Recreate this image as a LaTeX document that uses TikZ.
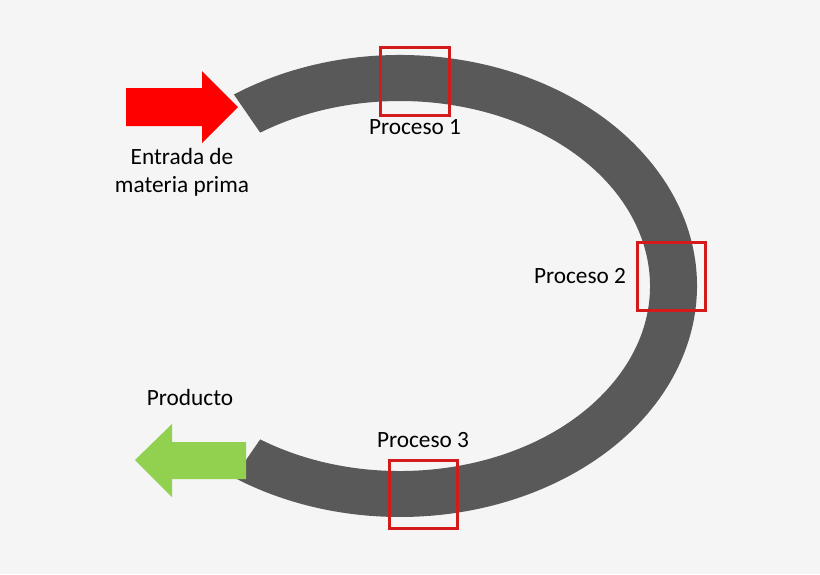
\documentclass[tikz,border=0pt]{standalone}
\usepackage{fontspec}
\setmainfont{Carlito}
\definecolor{bg}{HTML}{F5F5F5}
\definecolor{ringgray}{HTML}{595959}
\definecolor{boxred}{HTML}{D41A1A}
\definecolor{inred}{HTML}{FF0000}
\definecolor{outgreen}{HTML}{92D050}
\begin{document}
\begin{tikzpicture}[x=1pt,y=1pt,
  lbl/.style={inner sep=0pt, font=\fontsize{23.3}{28}\selectfont, text=black, align=center},
  procbox/.style={draw=boxred, line width=3pt, fill=none, inner sep=0pt}]
\fill[bg] (0,0) rectangle (820,-574);
\useasboundingbox (0,0) rectangle (820,-574);
% ring
\fill[ringgray] ([shift={(400pt,-286pt)}]124:297pt and 231pt)
  arc[start angle=124, end angle=-124, x radius=297pt, y radius=231pt]
  -- ([shift={(400pt,-286pt)}]-124:250pt and 185pt)
  arc[start angle=-124, end angle=124, x radius=250pt, y radius=185pt]
  -- cycle;
% input arrow
\fill[inred] (126,-88) -- (202,-88) -- (202,-71) -- (238,-107) -- (202,-143) -- (202,-126) -- (126,-126) -- cycle;
% output arrow
\fill[outgreen] (246,-442) -- (172,-442) -- (172,-424) -- (135,-460) -- (172,-497) -- (172,-479) -- (246,-479) -- cycle;
% process boxes
\node[procbox, minimum width=69pt, minimum height=68pt] (b1) at (415,-81) {};
\node[procbox, minimum width=68pt, minimum height=68pt] (b2) at (671,-276) {};
\node[procbox, minimum width=68pt, minimum height=68pt] (b3) at (423.5,-494) {};
% labels
\node[lbl] (p1) at (415,-127) {Proceso 1};
\node[lbl] (p2) at (580,-276) {Proceso 2};
\node[lbl] (p3) at (423,-440) {Proceso 3};
\node[lbl] (in) at (182,-172) {Entrada de\\materia prima};
\node[lbl] (out) at (190,-397) {Producto};
\end{tikzpicture}
\end{document}
